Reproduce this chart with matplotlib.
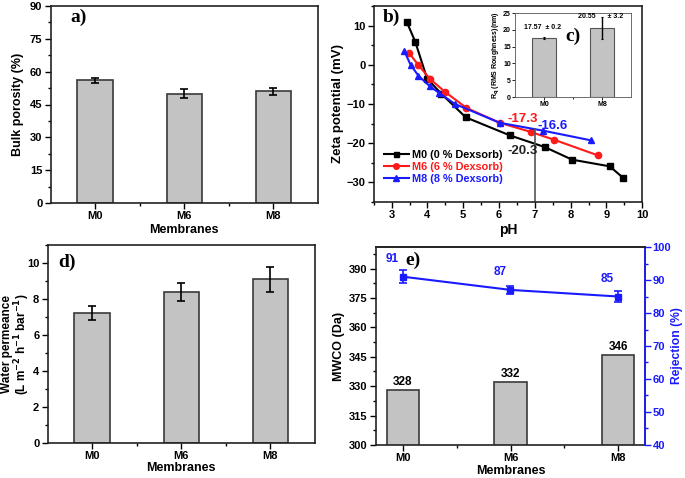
import matplotlib
matplotlib.use("Agg")
import matplotlib.pyplot as plt
import numpy as np
from matplotlib.ticker import MultipleLocator, FixedLocator

plt.rcParams['font.family'] = ['Liberation Sans', 'DejaVu Sans']
plt.rcParams['font.weight'] = 'bold'
plt.rcParams['axes.labelweight'] = 'bold'
plt.rcParams['mathtext.default'] = 'bf'

membranes = ["M0", "M6", "M8"]
porosity = [56, 50, 51]
porosity_err = [1.2, 2.2, 1.5]

permeance = [7.2, 8.4, 9.1]
permeance_err = [0.4, 0.5, 0.7]

mwco = [328, 332, 346]
rejection = [91, 87, 85]
rejection_err = [2.0, 1.2, 1.8]

m0_ph = [3.42, 3.66, 3.99, 4.39, 5.07, 6.30, 7.28, 8.04, 9.09, 9.46]
m0_zeta = [11.0, 5.9, -3.5, -7.4, -13.4, -18.0, -21.0, -24.2, -25.9, -28.8]
m6_ph = [3.49, 3.75, 4.07, 4.49, 5.09, 6.02, 6.88, 7.53, 8.76]
m6_zeta = [3.0, -0.1, -3.6, -6.9, -11.0, -14.8, -17.1, -19.1, -23.1]
m8_ph = [3.35, 3.53, 3.75, 4.07, 4.33, 4.77, 6.02, 7.23, 8.58]
m8_zeta = [3.6, 0.0, -2.8, -5.5, -7.2, -10.0, -14.8, -16.8, -19.3]

rough_labels = ["M0", "M8"]
roughness = [17.57, 20.55]
roughness_err = [0.2, 3.2]

BAR = "#c3c3c3"
EDGE = "#3a3a3a"
TICKFS = 8
LABFS = 9
BLUE = '#1a1aff'
RED = '#ff1a1a'

fig = plt.figure(figsize=(6.85, 4.78), dpi=100)

def px(l, r, t, b):
    W, H = 685, 478
    return [l / W, 1 - b / H, (r - l) / W, (b - t) / H]

def style(ax):
    ax.tick_params(direction='out', length=4, width=1, labelsize=TICKFS, pad=2)
    ax.tick_params(which='minor', direction='out', length=2, width=1)
    for s in ax.spines.values():
        s.set_linewidth(1.2)
        s.set_color('#222222')
    for lab in ax.get_xticklabels() + ax.get_yticklabels():
        lab.set_fontweight('bold')

def panel_label(ax, txt, x, y, fs=14):
    ax.text(x, y, txt, transform=ax.transAxes, fontsize=fs, fontweight='bold',
            family=['Liberation Serif', 'DejaVu Serif'], va='center', ha='left')

# ---- a) ----
axa = fig.add_axes(px(50.7, 318, 6, 203))
xa = np.arange(len(membranes))
axa.bar(xa, porosity, width=0.4, color=BAR, edgecolor=EDGE, linewidth=1.2,
        yerr=porosity_err, error_kw=dict(ecolor='black', elinewidth=1.2, capsize=3, capthick=1.2))
axa.set_xlim(-0.5, 2.5)
axa.set_ylim(0, 90)
axa.set_xticks(xa)
axa.set_xticklabels(membranes)
axa.xaxis.set_minor_locator(FixedLocator([0.5, 1.5]))
axa.yaxis.set_major_locator(MultipleLocator(15))
axa.yaxis.set_minor_locator(MultipleLocator(7.5))
axa.set_ylabel("Bulk porosity (%)", fontsize=LABFS, labelpad=4)
axa.set_xlabel("Membranes", fontsize=LABFS, labelpad=2)
style(axa)
panel_label(axa, "a)", 0.072, 0.94)

# ---- b) ----
axb = fig.add_axes(px(373.7, 642.3, 6, 202))
axb.plot(m0_ph, m0_zeta, '-s', color='black', lw=1.5, ms=4, label="M0 (0 % Dexsorb)")
axb.plot(m6_ph, m6_zeta, '-o', color=RED, lw=1.5, ms=4.5, label="M6 (6 % Dexsorb)")
axb.plot(m8_ph, m8_zeta, '-^', color=BLUE, lw=1.5, ms=4.5, label="M8 (8 % Dexsorb)")
axb.plot([7, 7], [-35, -16.5], color='#555555', lw=1.2)
axb.text(6.65, -13.9, "-17.3", color=RED, fontsize=9.5, ha='center', va='center')
axb.text(7.5, -15.5, "-16.6", color=BLUE, fontsize=9.5, ha='center', va='center')
axb.text(6.65, -22.1, "-20.3", color='#222222', fontsize=9.5, ha='center', va='center')
axb.set_xlim(2.5, 10)
axb.set_ylim(-35, 15)
axb.xaxis.set_major_locator(MultipleLocator(1))
axb.xaxis.set_minor_locator(MultipleLocator(0.5))
axb.yaxis.set_major_locator(MultipleLocator(10))
axb.yaxis.set_minor_locator(MultipleLocator(5))
axb.set_xlabel("pH", fontsize=LABFS + 1, labelpad=2)
axb.set_ylabel("Zeta potential (mV)", fontsize=LABFS + 0.5, labelpad=2)
style(axb)
leg = axb.legend(loc='upper left', bbox_to_anchor=(0.038, 0.265), frameon=False,
                 fontsize=7.8, handlelength=2.3, handletextpad=0.3, labelspacing=0.18,
                 borderaxespad=0, borderpad=0, markerscale=0.9)
for t, c in zip(leg.get_texts(), ['black', RED, BLUE]):
    t.set_color(c)
    t.set_fontweight('bold')
panel_label(axb, "b)", 0.035, 0.94)

# ---- c) inset ----
axc = fig.add_axes(px(515, 631, 13, 97))
xc = np.arange(len(rough_labels))
axc.bar(xc, roughness, width=0.4, color=BAR, edgecolor='#555555', linewidth=0.8,
        yerr=roughness_err, error_kw=dict(ecolor='black', elinewidth=1.0, capsize=0.8, capthick=0.8))
axc.set_xlim(-0.5, 1.5)
axc.set_ylim(0, 25)
axc.set_xticks(xc)
axc.set_xticklabels(rough_labels)
axc.xaxis.set_minor_locator(FixedLocator([0.5]))
axc.yaxis.set_major_locator(MultipleLocator(5))
axc.tick_params(direction='out', length=2, width=0.6, labelsize=5, pad=1)
axc.tick_params(which='minor', direction='out', length=1.5, width=0.6)
for s in axc.spines.values():
    s.set_linewidth(0.6)
    s.set_color('#555555')
for lab in axc.get_xticklabels() + axc.get_yticklabels():
    lab.set_fontweight('bold')
axc.set_ylabel("R$_q$ (RMS Roughness)(nm)", fontsize=5, labelpad=1)
axc.text(xc[0] - 0.02, roughness[0] + 2.0, f"{roughness[0]:.2f}  \u00b1 {roughness_err[0]}",
         fontsize=5, ha='center', va='bottom')
axc.text(xc[1] - 0.02, roughness[1] + 2.3, f"{roughness[1]:.2f}      \u00b1 {roughness_err[1]}",
         fontsize=5, ha='center', va='bottom')
panel_label(axc, "c)", 0.43, 0.72)

# ---- d) ----
axd = fig.add_axes(px(47.7, 315, 245, 442.7))
xd = np.arange(len(membranes))
axd.bar(xd, permeance, width=0.4, color=BAR, edgecolor=EDGE, linewidth=1.2,
        yerr=permeance_err, error_kw=dict(ecolor='black', elinewidth=1.2, capsize=3, capthick=1.2))
axd.set_xlim(-0.5, 2.5)
axd.set_ylim(0, 11)
axd.set_xticks(xd)
axd.set_xticklabels(membranes)
axd.xaxis.set_minor_locator(FixedLocator([0.5, 1.5]))
axd.yaxis.set_major_locator(MultipleLocator(2))
axd.yaxis.set_minor_locator(MultipleLocator(1))
axd.set_ylabel("Water permeance\n(L m$^{-2}$ h$^{-1}$ bar$^{-1}$)",
               fontsize=8.5, linespacing=1.0)
axd.yaxis.set_label_coords(-0.058, 0.5)
axd.set_xlabel("Membranes", fontsize=LABFS, labelpad=1)
style(axd)
panel_label(axd, "d)", 0.04, 0.91)

# ---- e) ----
axe = fig.add_axes(px(376, 645, 247, 445))
xe = np.arange(len(membranes))
axe.bar(xe, mwco, width=0.3, color=BAR, edgecolor=EDGE, linewidth=1.2, bottom=0)
axe.set_xlim(-0.25, 2.25)
axe.set_ylim(300, 401)
for xi, v in zip(xe, mwco):
    axe.text(xi, v + 1, str(v), ha='center', va='bottom', fontsize=8.5, fontweight='bold')
axe.set_xticks(xe)
axe.set_xticklabels(membranes)
axe.xaxis.set_minor_locator(FixedLocator([0.5, 1.5]))
axe.yaxis.set_major_locator(MultipleLocator(15))
axe.yaxis.set_minor_locator(MultipleLocator(7.5))
axe.set_ylabel("MWCO (Da)", fontsize=LABFS, labelpad=3)
axe.set_xlabel("Membranes", fontsize=LABFS, labelpad=1)
style(axe)
axe2 = axe.twinx()
axe2.errorbar(xe, rejection, yerr=rejection_err, color=BLUE, marker='s', ms=4,
              lw=1.5, ecolor=BLUE, elinewidth=1.2, capsize=3, capthick=1.2)
for xi, v in zip(xe, rejection):
    axe2.text(xi - 0.1, v + 3.5, str(v), ha='center', va='bottom', fontsize=8.5,
              color=BLUE, fontweight='bold')
axe2.set_ylim(40, 100)
axe2.yaxis.set_major_locator(MultipleLocator(10))
axe2.yaxis.set_minor_locator(MultipleLocator(5))
axe2.set_ylabel("Rejection (%)", fontsize=8.7, color=BLUE, labelpad=0)
axe2.tick_params(direction='out', length=4, width=1, labelsize=TICKFS, pad=1.5, colors=BLUE)
axe2.tick_params(which='minor', direction='out', length=2, width=1, colors=BLUE)
for lab in axe2.get_yticklabels():
    lab.set_fontweight('bold')
for s in axe2.spines.values():
    s.set_linewidth(1.2)
axe2.spines['right'].set_color(BLUE)
axe2.spines['top'].set_color('#222222')
axe2.spines['left'].set_visible(False)
axe2.spines['bottom'].set_visible(False)
panel_label(axe, "e)", 0.108, 0.934)

fig.savefig("out.png", dpi=100)
